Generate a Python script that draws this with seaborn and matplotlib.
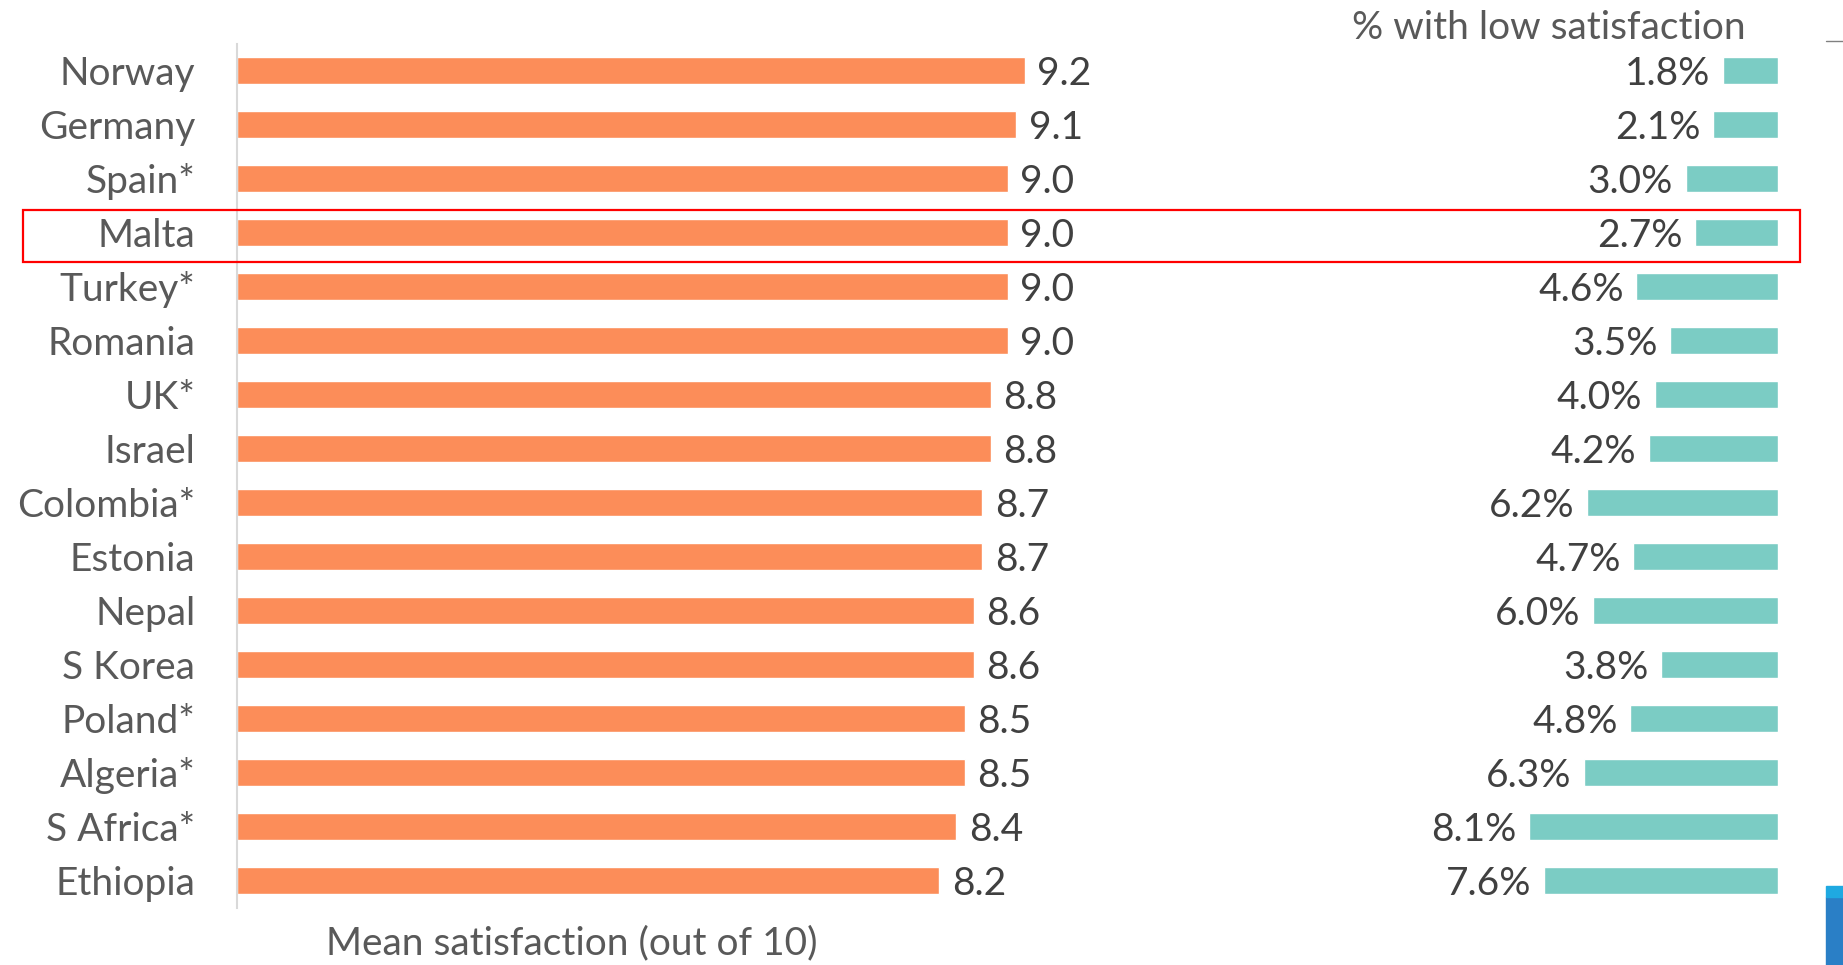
import numpy as np
import pandas as pd
import matplotlib
matplotlib.use("Agg")
import matplotlib.pyplot as plt
import matplotlib.transforms as mtransforms
from matplotlib.patches import Rectangle
import seaborn as sns

countries = ["Norway", "Germany", "Spain*", "Malta", "Turkey*", "Romania", "UK*", "Israel",
             "Colombia*", "Estonia", "Nepal", "S Korea", "Poland*", "Algeria*", "S Africa*", "Ethiopia"]
mean_sat = [9.2, 9.1, 9.0, 9.0, 9.0, 9.0, 8.8, 8.8, 8.7, 8.7, 8.6, 8.6, 8.5, 8.5, 8.4, 8.2]
low_sat = [1.8, 2.1, 3.0, 2.7, 4.6, 3.5, 4.0, 4.2, 6.2, 4.7, 6.0, 3.8, 4.8, 6.3, 8.1, 7.6]
highlight = "Malta"

df = pd.DataFrame({"country": countries, "mean": mean_sat, "low": low_sat})

sns.set_style("white")
plt.rcParams["font.family"] = ["Lato", "DejaVu Sans"]

orange = "#fc8d59"
teal = "#7bccc4"
fs = 28
W, H = 1843, 965
fig = plt.figure(figsize=(W / 100, H / 100), dpi=100)

# main panel: mean satisfaction
ax1 = fig.add_axes([237 / W, 1 - 907.5 / H, 856.5 / W, 864 / H])
sns.barplot(data=df, x="mean", y="country", orient="h", color=orange, width=0.5,
            saturation=1, ax=ax1)
ax1.set_xlim(0, 10)
ax1.set_ylim(15.5, -0.5)
labs1 = ax1.bar_label(ax1.containers[0], fmt="%.1f", padding=9, fontsize=fs, color="#404040")
ax1.set_xlabel("")
ax1.set_ylabel("")
ax1.set_xticks([])
ax1.tick_params(axis="y", length=0, pad=30, labelsize=fs, labelcolor="#595959")
for s in ["top", "right", "bottom"]:
    ax1.spines[s].set_visible(False)
ax1.spines["left"].set_color("#d9d9d9")
ax1.spines["left"].set_linewidth(1.5)

# right panel: % with low satisfaction (bars grow leftwards)
ax2 = fig.add_axes([1470 / W, 1 - 907.5 / H, 308 / W, 864 / H])
sns.barplot(data=df, x="low", y="country", orient="h", color=teal, width=0.5,
            saturation=1, ax=ax2)
ax2.set_xlim(10, 0)
ax2.set_ylim(15.5, -0.5)
labs2 = ax2.bar_label(ax2.containers[0], fmt="{:.1f}%", padding=9, fontsize=fs, color="#404040")
ax2.set_xlabel("")
ax2.set_ylabel("")
ax2.set_xticks([])
ax2.set_yticks([])
ax2.set_facecolor("none")
for s in ax2.spines.values():
    s.set_visible(False)

# nudge value labels down a little so the digits sit on the bar centre
for t in list(labs1) + list(labs2):
    dx, dy = t.xyann
    t.xyann = (dx, dy - 2.5)

fig.text(1549 / W, 1 - 28 / H, "% with low satisfaction", fontsize=fs, color="#595959",
         ha="center", va="center")
fig.text(572 / W, 1 - 943 / H, "Mean satisfaction (out of 10)", fontsize=fs, color="#595959",
         ha="center", va="center")

# red box round the highlighted country
hi = countries.index(highlight)
tr = mtransforms.blended_transform_factory(fig.transFigure, ax1.transData)
fig.patches.append(Rectangle((23 / W, hi - 0.417), 1777 / W, 0.963, transform=tr,
                             fill=False, edgecolor="#ff0000", linewidth=1.6, clip_on=False))

# slide leftovers at the right edge
fig.add_artist(plt.Line2D([1826 / W, 1], [1 - 41 / H, 1 - 41 / H], color="#808080", lw=1))
fig.patches.append(Rectangle((1826 / W, 0), 17 / W, 1 - 897 / H, transform=fig.transFigure,
                             color="#2a7fc6"))
fig.patches.append(Rectangle((1826 / W, 1 - 897 / H), 17 / W, 11 / H, transform=fig.transFigure,
                             color="#1fa9e1"))

fig.savefig("out.png", dpi=100)
